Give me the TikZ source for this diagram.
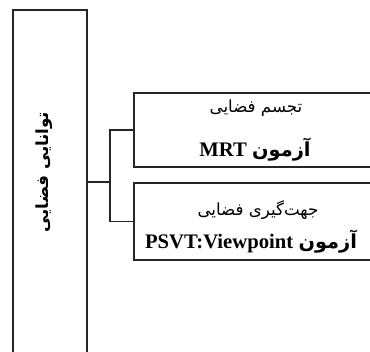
\documentclass[tikz,border=0pt]{standalone}
\usepackage{fontspec}
\setmainfont{Liberation Serif}
\newfontfamily\arabicfont[Script=Arabic]{DejaVu Sans}
\TeXXeTstate=1
\usetikzlibrary{positioning}
\newcommand{\latinbf}[1]{\beginL{\normalfont\bfseries\fontsize{15.5}{18}\selectfont #1}\endL}
\newcommand{\testword}{{\bfseries\fontsize{14.5}{17}\selectfont آزمون}}

\begin{document}
\begin{tikzpicture}[x=0.75pt,y=-0.75pt,
  box/.style={draw=black!85,line width=1pt,inner sep=0pt},
  link/.style={draw=black!85,line width=1pt},
  farsi/.style={inner sep=0pt,font=\arabicfont\fontsize{12.5}{15}\selectfont}]
\useasboundingbox (0,0) rectangle (370,351);
\clip (0,0) rectangle (370,351);
% main box
\node[box,minimum width=55.5pt,minimum height=258pt] (skill) at (50,182) {};
\node[farsi,font=\arabicfont\fontsize{12.5}{15}\selectfont\bfseries,rotate=90] (skilltext) at (44,172) {\beginR توانایی فضایی\endR};
% branches
\node[box,minimum width=181.5pt,minimum height=55.5pt] (visual) at (255,130) {};
\node[box,minimum width=181.5pt,minimum height=57.75pt] (orient) at (255,221.5) {};
\node[farsi] (visualname) at (256,108) {\beginR تجسم فضایی\endR};
\node[farsi] (visualtest) at (255,150) {\beginR\testword\ \latinbf{MRT}\endR};
\node[farsi] (orientname) at (258,210) {\beginR جهت‌گیری فضایی\endR};
\node[farsi] (orienttest) at (251,242) {\beginR\testword\ \latinbf{PSVT:Viewpoint}\endR};
% connectors
\coordinate (fork) at (110,182);
\draw[link] (skill.east) -- (fork);
\draw[link] (visual.west) -| (fork) |- (orient.west);
\end{tikzpicture}
\end{document}
